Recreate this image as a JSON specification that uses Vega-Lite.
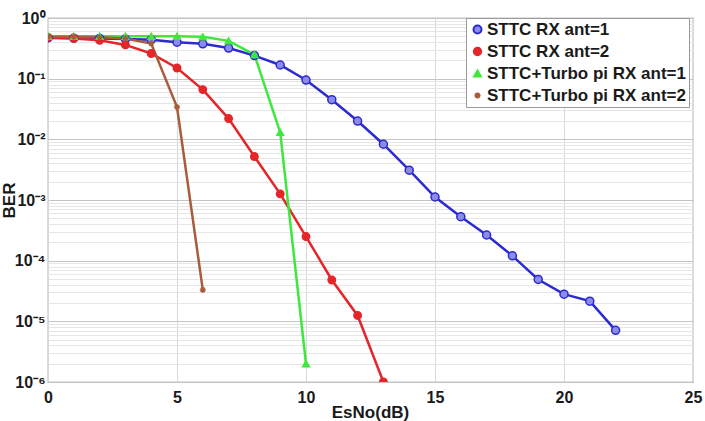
{
  "$schema": "https://vega.github.io/schema/vega-lite/v6.json",
  "width": 645,
  "height": 364,
  "autosize": "none",
  "padding": {"left": 48, "top": 18, "right": 12, "bottom": 39},
  "background": "white",
  "config": {
    "font": "Liberation Sans",
    "view": {"stroke": "#8a8a8a", "strokeWidth": 1.2}
  },
  "data": {
    "values": [
      {"series": "STTC RX ant=1", "x": 0, "ber": 0.47},
      {"series": "STTC RX ant=1", "x": 1, "ber": 0.465},
      {"series": "STTC RX ant=1", "x": 2, "ber": 0.46},
      {"series": "STTC RX ant=1", "x": 3, "ber": 0.45},
      {"series": "STTC RX ant=1", "x": 4, "ber": 0.44},
      {"series": "STTC RX ant=1", "x": 5, "ber": 0.40},
      {"series": "STTC RX ant=1", "x": 6, "ber": 0.375},
      {"series": "STTC RX ant=1", "x": 7, "ber": 0.32},
      {"series": "STTC RX ant=1", "x": 8, "ber": 0.24},
      {"series": "STTC RX ant=1", "x": 9, "ber": 0.168},
      {"series": "STTC RX ant=1", "x": 10, "ber": 0.095},
      {"series": "STTC RX ant=1", "x": 11, "ber": 0.045},
      {"series": "STTC RX ant=1", "x": 12, "ber": 0.02},
      {"series": "STTC RX ant=1", "x": 13, "ber": 0.0083},
      {"series": "STTC RX ant=1", "x": 14, "ber": 0.0031},
      {"series": "STTC RX ant=1", "x": 15, "ber": 0.00112},
      {"series": "STTC RX ant=1", "x": 16, "ber": 0.00053},
      {"series": "STTC RX ant=1", "x": 17, "ber": 0.000265},
      {"series": "STTC RX ant=1", "x": 18, "ber": 0.00012},
      {"series": "STTC RX ant=1", "x": 19, "ber": 0.000049},
      {"series": "STTC RX ant=1", "x": 20, "ber": 0.000028},
      {"series": "STTC RX ant=1", "x": 21, "ber": 0.0000215},
      {"series": "STTC RX ant=1", "x": 22, "ber": 0.0000071},
      {"series": "STTC RX ant=2", "x": 0, "ber": 0.48},
      {"series": "STTC RX ant=2", "x": 1, "ber": 0.46},
      {"series": "STTC RX ant=2", "x": 2, "ber": 0.43},
      {"series": "STTC RX ant=2", "x": 3, "ber": 0.36},
      {"series": "STTC RX ant=2", "x": 4, "ber": 0.26},
      {"series": "STTC RX ant=2", "x": 5, "ber": 0.15},
      {"series": "STTC RX ant=2", "x": 6, "ber": 0.066},
      {"series": "STTC RX ant=2", "x": 7, "ber": 0.022},
      {"series": "STTC RX ant=2", "x": 8, "ber": 0.0052},
      {"series": "STTC RX ant=2", "x": 9, "ber": 0.00126},
      {"series": "STTC RX ant=2", "x": 10, "ber": 0.00025},
      {"series": "STTC RX ant=2", "x": 11, "ber": 0.000048},
      {"series": "STTC RX ant=2", "x": 12, "ber": 0.0000125},
      {"series": "STTC RX ant=2", "x": 13, "ber": 0.000001},
      {"series": "STTC+Turbo pi RX ant=1", "x": 0, "ber": 0.5},
      {"series": "STTC+Turbo pi RX ant=1", "x": 1, "ber": 0.5},
      {"series": "STTC+Turbo pi RX ant=1", "x": 2, "ber": 0.5},
      {"series": "STTC+Turbo pi RX ant=1", "x": 3, "ber": 0.5},
      {"series": "STTC+Turbo pi RX ant=1", "x": 4, "ber": 0.5},
      {"series": "STTC+Turbo pi RX ant=1", "x": 5, "ber": 0.5},
      {"series": "STTC+Turbo pi RX ant=1", "x": 6, "ber": 0.49},
      {"series": "STTC+Turbo pi RX ant=1", "x": 7, "ber": 0.42},
      {"series": "STTC+Turbo pi RX ant=1", "x": 8, "ber": 0.25},
      {"series": "STTC+Turbo pi RX ant=1", "x": 9, "ber": 0.013},
      {"series": "STTC+Turbo pi RX ant=1", "x": 10, "ber": 0.000002},
      {"series": "STTC+Turbo pi RX ant=2", "x": 0, "ber": 0.49},
      {"series": "STTC+Turbo pi RX ant=2", "x": 1, "ber": 0.49},
      {"series": "STTC+Turbo pi RX ant=2", "x": 2, "ber": 0.48},
      {"series": "STTC+Turbo pi RX ant=2", "x": 3, "ber": 0.46},
      {"series": "STTC+Turbo pi RX ant=2", "x": 4, "ber": 0.38},
      {"series": "STTC+Turbo pi RX ant=2", "x": 5, "ber": 0.034},
      {"series": "STTC+Turbo pi RX ant=2", "x": 6, "ber": 0.000033}
    ]
  },
  "encoding": {
    "x": {
      "field": "x", "type": "quantitative",
      "scale": {"domain": [0, 25], "nice": false, "zero": false},
      "axis": {
        "title": "EsNo(dB)",
        "values": [0, 5, 10, 15, 20, 25],
        "format": "d",
        "ticks": false,
        "domain": false,
        "grid": true, "gridColor": "#d8d8d8", "gridWidth": 1,
        "labelFont": "Liberation Sans", "labelFontSize": 16, "labelFontWeight": "bold", "labelColor": "#1a1a1a",
        "labelPadding": 7, "labelFlush": false,
        "titleFont": "Liberation Sans", "titleFontSize": 17, "titleFontWeight": "bold", "titleColor": "#1a1a1a",
        "titleX": 322, "titleY": 35, "titleBaseline": "alphabetic", "titleAlign": "center"
      }
    },
    "y": {
      "field": "ber", "type": "quantitative",
      "scale": {"type": "log", "domain": [0.000001, 1], "nice": false},
      "axis": {
        "title": "BER",
        "values": [0.000001,0.000002,0.000003,0.000004,0.000005,0.000006,0.000007,0.000008,0.000009,
                   0.00001,0.00002,0.00003,0.00004,0.00005,0.00006,0.00007,0.00008,0.00009,
                   0.0001,0.0002,0.0003,0.0004,0.0005,0.0006,0.0007,0.0008,0.0009,
                   0.001,0.002,0.003,0.004,0.005,0.006,0.007,0.008,0.009,
                   0.01,0.02,0.03,0.04,0.05,0.06,0.07,0.08,0.09,
                   0.1,0.2,0.3,0.4,0.5,0.6,0.7,0.8,0.9,1],
        "labelExpr": "abs(log(datum.value)/LN10 - round(log(datum.value)/LN10)) < 0.001 ? ['10⁰','10⁻¹','10⁻²','10⁻³','10⁻⁴','10⁻⁵','10⁻⁶'][round(-log(datum.value)/LN10)] : ''",
        "ticks": false,
        "domain": false,
        "grid": true,
        "gridColor": {"condition": {"test": "abs(log(datum.value)/LN10 - round(log(datum.value)/LN10)) < 0.001", "value": "#c4c4c4"}, "value": "#e6e6e6"},
        "gridWidth": 1,
        "labelFont": "Liberation Sans", "labelFontSize": 16, "labelFontWeight": "bold", "labelColor": "#1a1a1a",
        "labelPadding": 3, "labelOverlap": false, "labelFlush": false,
        "titleFont": "Liberation Sans", "titleFontSize": 17, "titleFontWeight": "bold", "titleColor": "#1a1a1a",
        "titleX": -34, "titleY": 182, "titleAngle": -90, "titleAlign": "center", "titleBaseline": "alphabetic"
      }
    },
    "color": {
      "field": "series", "type": "nominal",
      "scale": {
        "domain": ["STTC RX ant=1", "STTC RX ant=2", "STTC+Turbo pi RX ant=1", "STTC+Turbo pi RX ant=2"],
        "range": ["#2b2bd0", "#e4262b", "#3de83d", "#a85c3c"]
      },
      "legend": {
        "title": null,
        "orient": "none",
        "legendX": 418,
        "legendY": 0,
        "fillColor": "white",
        "strokeColor": "#9a9a9a",
        "padding": 3,
        "rowPadding": 4,
        "symbolSize": 400,
        "symbolStrokeWidth": 2,
        "labelFont": "Liberation Sans", "labelFontSize": 17, "labelFontWeight": "bold", "labelColor": "#1a1a1a",
        "labelOffset": 1,
        "labelLimit": 300,
        "encode": {
          "symbols": {
            "update": {
              "shape": {"signal": "datum.value === 'STTC RX ant=1' ? 'M-1,0H1M0.3,0A0.3,0.3 0 1 1 -0.3,0A0.3,0.3 0 1 1 0.3,0Z' : datum.value === 'STTC RX ant=2' ? 'M-1,0H1M0.25,0A0.25,0.25 0 1 1 -0.25,0A0.25,0.25 0 1 1 0.25,0Z' : datum.value === 'STTC+Turbo pi RX ant=1' ? 'M-1,0H1M0,-0.35L0.33,0.25L-0.33,0.25Z' : 'M-1,0H1M0.2,0A0.2,0.2 0 1 1 -0.2,0A0.2,0.2 0 1 1 0.2,0Z'"},
              "fill": {"scale": "color", "field": "value"},
              "stroke": {"scale": "color", "field": "value"},
              "strokeWidth": {"value": 2},
              "opacity": {"value": 1}
            }
          }
        }
      }
    }
  },
  "layer": [
    {
      "mark": {"type": "line", "strokeWidth": 2.5, "clip": true},
      "encoding": {"detail": {"field": "series"}}
    },
    {
      "mark": {"type": "point", "filled": false, "strokeWidth": 1.5, "opacity": 1, "clip": true},
      "encoding": {
        "shape": {
          "field": "series", "type": "nominal",
          "scale": {"domain": ["STTC RX ant=1", "STTC RX ant=2", "STTC+Turbo pi RX ant=1", "STTC+Turbo pi RX ant=2"],
                    "range": ["circle", "circle", "triangle-up", "M-1,0L1,0M0,-1L0,1M-0.7,-0.7L0.7,0.7M-0.7,0.7L0.7,-0.7"]},
          "legend": null
        },
        "fill": {
          "field": "series", "type": "nominal",
          "scale": {"domain": ["STTC RX ant=1", "STTC RX ant=2", "STTC+Turbo pi RX ant=1", "STTC+Turbo pi RX ant=2"],
                    "range": ["#8c8ce8", "#e4262b", "#3de83d", "#a85c3c"]},
          "legend": null
        },
        "stroke": {
          "field": "series", "type": "nominal",
          "scale": {"domain": ["STTC RX ant=1", "STTC RX ant=2", "STTC+Turbo pi RX ant=1", "STTC+Turbo pi RX ant=2"],
                    "range": ["#2b2bd0", "#e4262b", "#3de83d", "#a85c3c"]},
          "legend": null
        },
        "size": {
          "field": "series", "type": "nominal",
          "scale": {"domain": ["STTC RX ant=1", "STTC RX ant=2", "STTC+Turbo pi RX ant=1", "STTC+Turbo pi RX ant=2"],
                    "range": [64, 36, 60, 40]},
          "legend": null
        }
      }
    }
  ]
}
